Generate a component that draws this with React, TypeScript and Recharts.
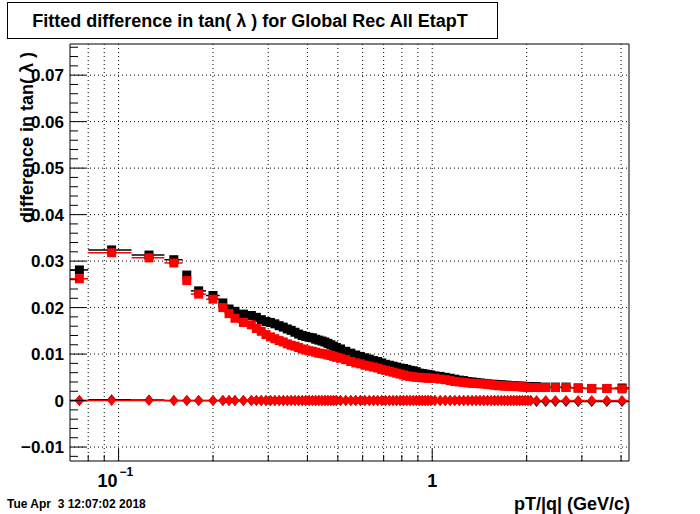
import React from 'react'
import { ComposedChart, Scatter, XAxis, YAxis, ErrorBar, ReferenceLine } from 'recharts'

// bin edges in pT/|q| (GeV/c)
const binEdges = [
  0.07, 0.08, 0.11, 0.14, 0.16, 0.17, 0.19, 0.21, 0.22, 0.23, 0.24, 0.26,
  0.27, 0.28, 0.29, 0.30, 0.31, 0.32, 0.33, 0.34, 0.35, 0.36, 0.37, 0.38,
  0.39, 0.40, 0.41, 0.42, 0.43, 0.44, 0.45, 0.46, 0.47, 0.48, 0.49, 0.50,
  0.52, 0.54, 0.56, 0.58, 0.60, 0.62, 0.64, 0.66, 0.68, 0.70, 0.72, 0.74,
  0.76, 0.78, 0.80, 0.82, 0.84, 0.86, 0.88, 0.90, 0.92, 0.94, 0.96, 0.98, 1.00,
  1.04, 1.08, 1.12, 1.16, 1.20, 1.24, 1.28, 1.32, 1.36, 1.40, 1.44, 1.48, 1.52,
  1.56, 1.60, 1.64, 1.68, 1.72, 1.76, 1.80, 1.84, 1.88, 1.92, 1.96, 2.00, 2.04, 2.08,
  2.22, 2.38, 2.56, 2.78, 3.06, 3.39, 3.82, 4.24,
]

// fitted difference, black squares
const blackMean = [
  0.0281, 0.0324, 0.0313, 0.0303, 0.0270, 0.0236, 0.0226, 0.0210, 0.0197, 0.0192,
  0.0186, 0.0183, 0.0179, 0.0174, 0.0170, 0.0168, 0.0165, 0.0161, 0.0158, 0.0154,
  0.0151, 0.0147, 0.0143, 0.0140, 0.0138, 0.0136, 0.0135, 0.0132, 0.0130, 0.0128,
  0.0126, 0.0123, 0.0120, 0.0117, 0.0114, 0.0111, 0.0106, 0.0102, 0.0098, 0.0095,
  0.0092, 0.0089, 0.0086, 0.0084, 0.0081, 0.0078, 0.0076, 0.0074, 0.0072, 0.0070,
  0.0069, 0.0067, 0.0065, 0.0064, 0.0062, 0.0059, 0.0058, 0.0057, 0.0056, 0.0055,
  0.0053, 0.0052, 0.0050, 0.0048, 0.0046, 0.0044, 0.0043, 0.0041, 0.0040, 0.0039,
  0.0038, 0.0037, 0.0036, 0.0035, 0.0035, 0.0034, 0.0034, 0.0033, 0.0033, 0.0032,
  0.0032, 0.0031, 0.0031, 0.0031, 0.0030, 0.0030, 0.0030, 0.0030, 0.0029, 0.0029,
  0.0029, 0.0027, 0.0026, 0.0026, 0.0027,
]
// fitted difference, red squares
const redMean = [
  0.0262, 0.0318, 0.0307, 0.0296, 0.0258, 0.0229, 0.0218, 0.0200, 0.0187, 0.0177,
  0.0168, 0.0163, 0.0155, 0.0149, 0.0142, 0.0137, 0.0133, 0.0129, 0.0126, 0.0122,
  0.0119, 0.0117, 0.0114, 0.0111, 0.0109, 0.0107, 0.0106, 0.0104, 0.0102, 0.0101,
  0.0100, 0.0098, 0.0097, 0.0095, 0.0093, 0.0091, 0.0088, 0.0084, 0.0081, 0.0079,
  0.0076, 0.0074, 0.0072, 0.0070, 0.0067, 0.0065, 0.0063, 0.0061, 0.0059, 0.0057,
  0.0055, 0.0053, 0.0052, 0.0051, 0.0050, 0.0050, 0.0049, 0.0049, 0.0048, 0.0048,
  0.0048, 0.0046, 0.0045, 0.0043, 0.0041, 0.0040, 0.0039, 0.0038, 0.0037, 0.0037,
  0.0036, 0.0036, 0.0035, 0.0034, 0.0033, 0.0032, 0.0032, 0.0031, 0.0031, 0.0031,
  0.0031, 0.0030, 0.0030, 0.0029, 0.0029, 0.0028, 0.0028, 0.0028, 0.0028, 0.0028,
  0.0028, 0.0027, 0.0026, 0.0026, 0.0025,
]
// diamonds sitting at zero
const blackRef = [
  0, 0.0002, 0.0001, 0, 0, 0, 0, 0, 0, 0,
  0, 0, 0, 0, 0, 0, 0, 0, 0, 0,
  0, 0, 0, 0, 0, 0, 0, 0, 0, 0,
  0, 0, 0, 0, 0, 0, 0, 0, 0, 0,
  0, 0, 0, 0, 0, 0, 0, 0, 0, 0,
  0, 0, 0, 0, 0, 0, 0, 0, 0, 0,
  0, 0, 0, 0, 0, 0, 0, 0, 0, 0,
  0, 0, 0, 0, 0, 0, 0, 0, 0, 0,
  0, 0, 0, 0, 0, 0, 0, -0.0002, -0.0002, -0.0002,
  -0.0002, -0.0002, -0.0002, -0.0002, -0.0002,
]
const redRef = [
  0, 0, 0, 0, 0, 0, 0, 0, 0, 0,
  0, 0, 0, 0, 0, 0, 0, 0, 0, 0,
  0, 0, 0, 0, 0, 0, 0, 0, 0, 0,
  0, 0, 0, 0, 0, 0, 0, 0, 0, 0,
  0, 0, 0, 0, 0, 0, 0, 0, 0, 0,
  0, 0, 0, 0, 0, 0, 0, 0, 0, 0,
  0, 0, 0, 0, 0, 0, 0, 0, 0, 0,
  0, 0, 0, 0, 0, 0, 0, 0, 0, 0,
  0, 0, 0, 0, 0, 0, 0, 0, 0, 0,
  0, 0, 0, 0, 0,
]

const xTicks = [0.08, 0.09, 0.1, 0.2, 0.3, 0.4, 0.5, 0.6, 0.7, 0.8, 0.9, 1, 2, 3, 4]
const yLabels = [-0.01, 0, 0.01, 0.02, 0.03, 0.04, 0.05, 0.06, 0.07]
const yTicks: number[] = []
for (let i = -6; i <= 38; i++) yTicks.push(+(i * 0.002).toFixed(3))

const X_DOMAIN = [0.07, 4.24]
const Y_DOMAIN = [-0.013, 0.0767]
const FONT = '"Liberation Sans", Arial, Helvetica, sans-serif'

const toPoints = (vals: number[]) =>
  vals.map((y, i) => {
    const lo = binEdges[i]
    const hi = binEdges[i + 1]
    const x = (lo + hi) / 2
    return { x, y, xerr: [x - lo, hi - x] }
  })

const squareShape = (color: string) => (p: any) => (
  <rect x={p.cx - 4.5} y={p.cy - 4.5} width={9} height={9} fill={color} />
)
const diamondShape = (color: string) => (p: any) => (
  <polygon
    points={`${p.cx},${p.cy - 5.5} ${p.cx + 4.5},${p.cy} ${p.cx},${p.cy + 5.5} ${p.cx - 4.5},${p.cy}`}
    fill={color}
  />
)

const fmtY = (v: number) => {
  if (Math.abs(v) < 1e-9) return '0'
  const s = Math.abs(v).toFixed(2)
  return v < 0 ? '\u2212' + s : s
}

const YTick = ({ x, y, payload }: any) => {
  const v = payload.value
  const major = yLabels.some(l => Math.abs(l - v) < 1e-9)
  return (
    <g>
      <line x1={x} x2={x + (major ? 16 : 8)} y1={y} y2={y} stroke="#000" />
      {major && (
        <text x={x - 6} y={y + 6} textAnchor="end" fontFamily={FONT} fontWeight="bold" fontSize={17} fill="#000">
          {fmtY(v)}
        </text>
      )}
    </g>
  )
}

const XTick = ({ x, y, payload }: any) => {
  const v = payload.value
  const major = v === 0.1 || v === 1
  return (
    <g>
      <line x1={x} x2={x} y1={y} y2={y - (major ? 12 : 6)} stroke="#000" />
      {v === 0.1 && (
        <g>
          <text x={x - 1} y={y + 26} textAnchor="end" fontFamily={FONT} fontWeight="bold" fontSize={18} fill="#000">
            10
          </text>
          <text x={x + 1} y={y + 15} fontFamily={FONT} fontWeight="bold" fontSize={12} fill="#000">
            {'\u22121'}
          </text>
        </g>
      )}
      {v === 1 && (
        <text x={x} y={y + 26} textAnchor="middle" fontFamily={FONT} fontWeight="bold" fontSize={18} fill="#000">
          1
        </text>
      )}
    </g>
  )
}

export default function App() {
  const black = toPoints(blackMean)
  const red = toPoints(redMean)
  const blackD = toPoints(blackRef)
  const redD = toPoints(redRef)

  return (
    <div style={{ position: 'absolute', left: 0, top: 0, width: 700, height: 514, background: '#fff' }}>
      <ComposedChart width={700} height={514} margin={{ top: 44, right: 71, bottom: 0, left: 0 }}>
        <XAxis
          dataKey="x"
          type="number"
          scale="log"
          domain={X_DOMAIN}
          allowDataOverflow
          ticks={xTicks}
          interval={0}
          height={53}
          tickSize={0}
          tickMargin={0}
          tickLine={false}
          axisLine={{ stroke: '#000' }}
          tick={<XTick />}
        />
        <YAxis
          dataKey="y"
          type="number"
          domain={Y_DOMAIN}
          allowDataOverflow
          ticks={yTicks}
          interval={0}
          width={70}
          tickSize={0}
          tickMargin={0}
          tickLine={false}
          axisLine={{ stroke: '#000' }}
          tick={<YTick />}
        />
        {xTicks.map(t => (
          <ReferenceLine key={'gx' + t} x={t} stroke="#000" strokeDasharray="1 3" />
        ))}
        {yLabels.map(t => (
          <ReferenceLine key={'gy' + t} y={t} stroke="#000" strokeDasharray="1 3" />
        ))}
        <ReferenceLine y={Y_DOMAIN[1]} stroke="#000" />
        <ReferenceLine x={X_DOMAIN[1]} stroke="#000" />

        <Scatter data={black} shape={squareShape('#000')} isAnimationActive={false}>
          <ErrorBar dataKey="xerr" direction="x" width={0} stroke="#000" isAnimationActive={false} />
        </Scatter>
        <Scatter data={red} shape={squareShape('#ff0000')} isAnimationActive={false}>
          <ErrorBar dataKey="xerr" direction="x" width={0} stroke="#ff0000" isAnimationActive={false} />
        </Scatter>
        <Scatter data={blackD} shape={diamondShape('#000')} isAnimationActive={false}>
          <ErrorBar dataKey="xerr" direction="x" width={0} stroke="#000" isAnimationActive={false} />
        </Scatter>
        <Scatter data={redD} shape={diamondShape('#ff0000')} isAnimationActive={false}>
          <ErrorBar dataKey="xerr" direction="x" width={0} stroke="#ff0000" isAnimationActive={false} />
        </Scatter>
      </ComposedChart>

      <svg width={700} height={514} style={{ position: 'absolute', left: 0, top: 0, pointerEvents: 'none' }}>
        <rect x={7.5} y={2.5} width={490} height={36} fill="#fff" stroke="#000" />
        <text x={250} y={27} textAnchor="middle" fontFamily={FONT} fontWeight="bold" fontSize={18}>
          Fitted difference in tan( {'\u03bb'} ) for Global Rec All EtapT
        </text>
        <text
          x={33}
          y={52}
          textAnchor="end"
          transform="rotate(-90 33 52)"
          fontFamily={FONT}
          fontWeight="bold"
          fontSize={18}
        >
          difference in tan( {'\u03bb'} )
        </text>
        <text x={630} y={510} textAnchor="end" fontFamily={FONT} fontWeight="bold" fontSize={18}>
          pT/|q| (GeV/c)
        </text>
        <text x={7} y={508} fontFamily={FONT} fontWeight="bold" fontSize={12} style={{ whiteSpace: 'pre' }}>
          {'Tue Apr  3 12:07:02 2018'}
        </text>
      </svg>
    </div>
  )
}
